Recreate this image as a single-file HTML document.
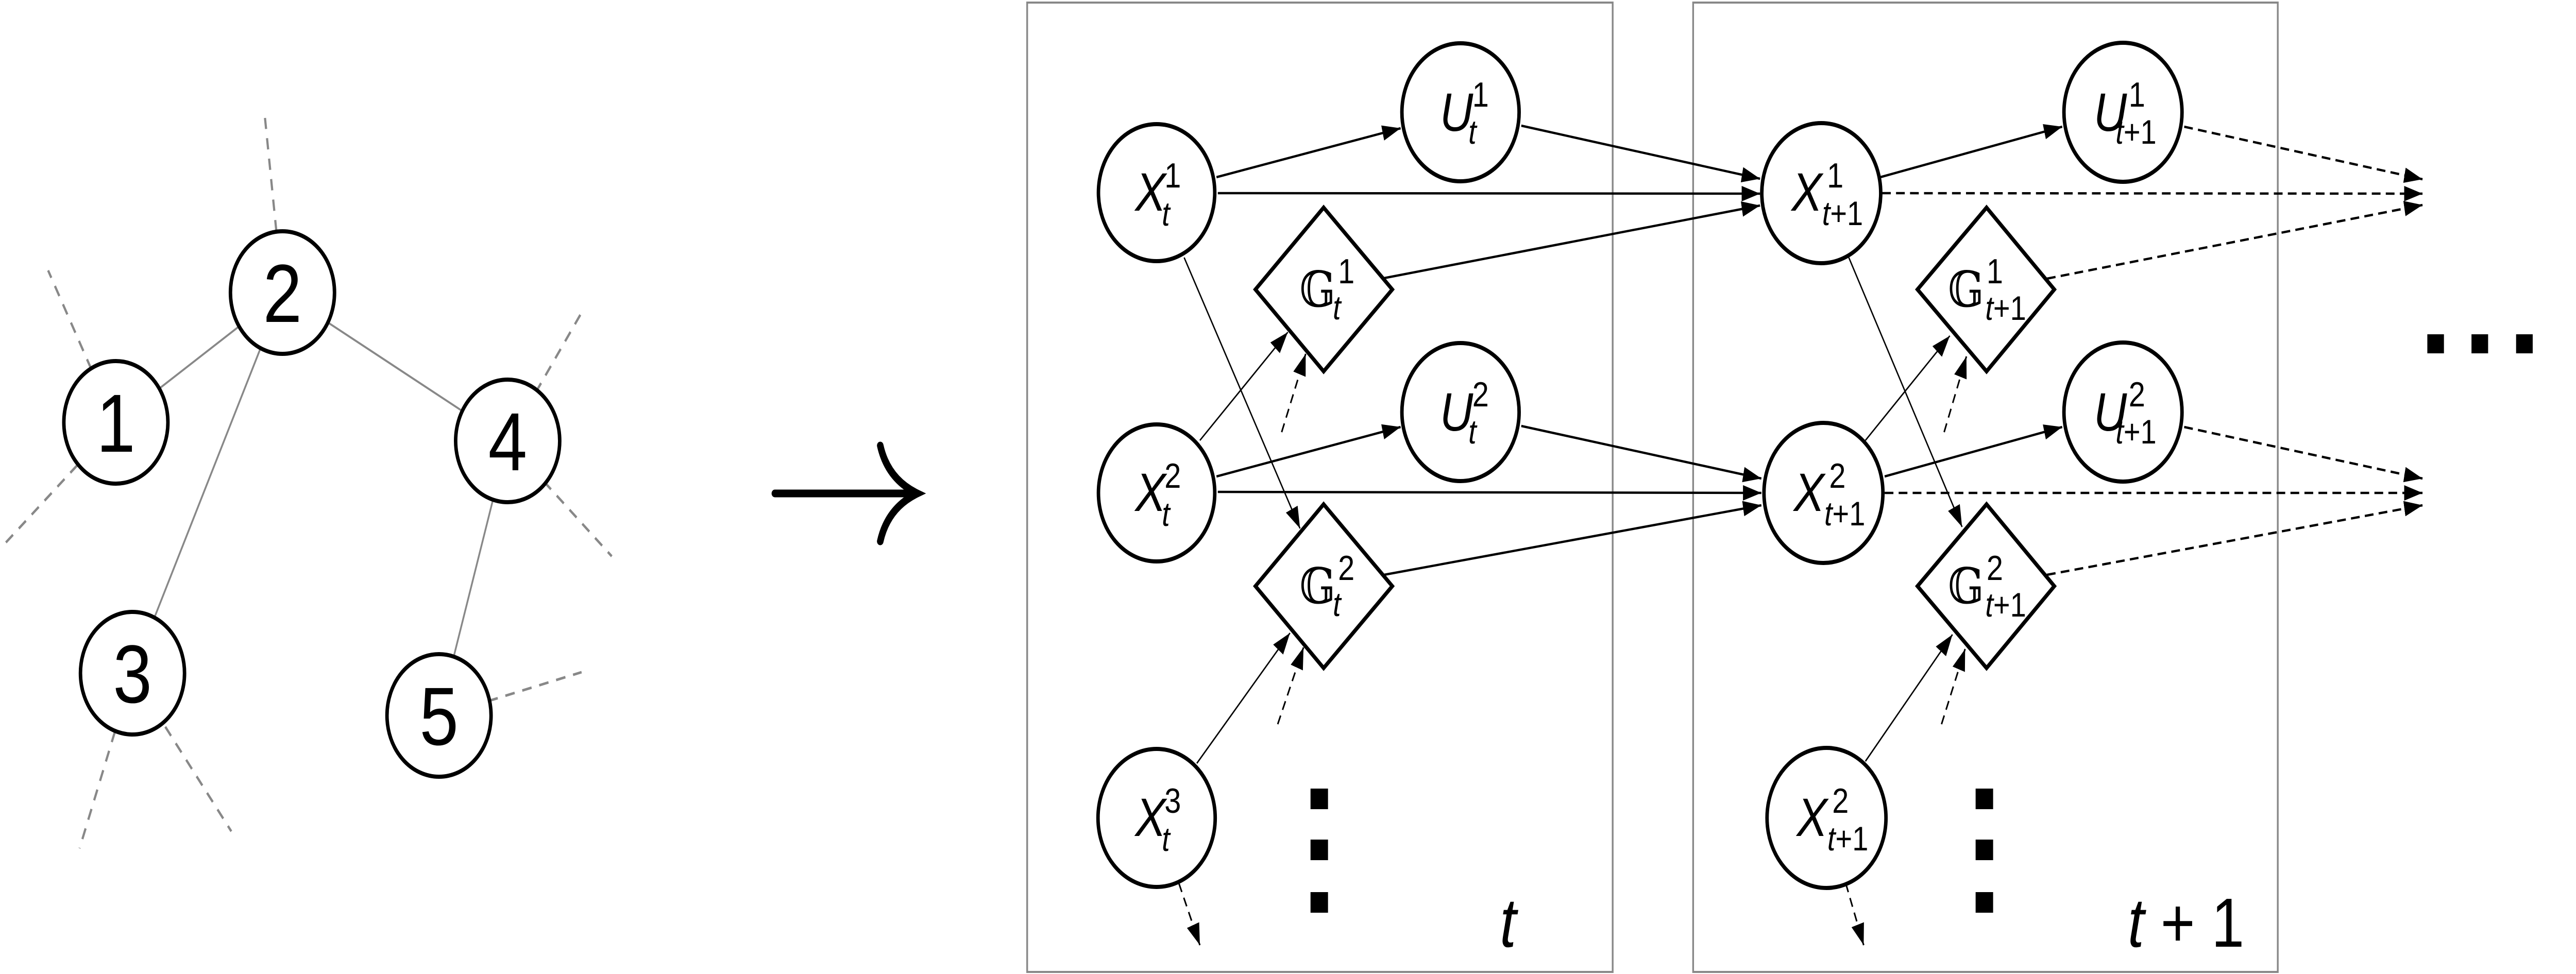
<!DOCTYPE html>
<html><head><meta charset="utf-8"><style>html,body{margin:0;padding:0;background:#fff;width:100%;height:100%;overflow:hidden}svg{display:block;position:absolute;left:0;top:0;width:100%;height:100%}</style></head>
<body>
<svg xmlns="http://www.w3.org/2000/svg" viewBox="0 0 5891 1891" preserveAspectRatio="none">
<defs>
<marker id="ah" markerUnits="userSpaceOnUse" markerWidth="44" markerHeight="32" refX="42" refY="15" orient="auto"><path d="M0,0 L42,15 L0,30 z" fill="#000"/></marker>
</defs>
<rect width="5891" height="1891" fill="#fff"/>
<g stroke="#888" stroke-width="4" fill="none">
<line x1="646" y1="568" x2="265" y2="820"/>
<line x1="646" y1="568" x2="303" y2="1307"/>
<line x1="646" y1="568" x2="1161" y2="856"/>
<line x1="1161" y1="856" x2="1004" y2="1389"/>
<g stroke-dasharray="22 18" stroke-width="5">
<line x1="632" y1="449" x2="606" y2="229"/>
<line x1="209" y1="717" x2="110" y2="525"/>
<line x1="177" y1="903" x2="5" y2="1061"/>
<line x1="1225" y1="762" x2="1330" y2="607"/>
<line x1="1244" y1="935" x2="1399" y2="1080"/>
<line x1="263" y1="1420" x2="182" y2="1647"/>
<line x1="378" y1="1411" x2="529" y2="1614"/>
<line x1="1117" y1="1361" x2="1330" y2="1305"/>
</g>
</g>
<g stroke="#000" stroke-width="8" fill="#fff">
<circle cx="646" cy="568" r="119"/>
<circle cx="265" cy="820" r="119"/>
<circle cx="303" cy="1307" r="119"/>
<circle cx="1161" cy="856" r="119"/>
<circle cx="1004" cy="1389" r="119"/>
</g>
<g font-family="Liberation Sans, sans-serif" font-size="160" text-anchor="middle" fill="#000">
<text x="646" y="625">2</text>
<text x="265" y="877">1</text>
<text x="303" y="1364">3</text>
<text x="1161" y="913">4</text>
<text x="1004" y="1446">5</text>
</g>
<g stroke="#000" stroke-width="15" fill="none" stroke-linecap="round">
<line x1="1772" y1="958" x2="2090" y2="958"/>
<path d="M2013,865 Q2030,930 2098,958 Q2030,986 2013,1051"/>
</g>
<rect x="2349" y="5" width="1339" height="1882" fill="none" stroke="#888" stroke-width="4"/>
<rect x="3872" y="5" width="1337" height="1882" fill="none" stroke="#888" stroke-width="4"/>
<g stroke="#000" stroke-width="4.5" fill="none" marker-end="url(#ah)">
<line x1="2782" y1="344" x2="3203" y2="249"/>
<line x1="2785" y1="375" x2="4025" y2="376"/>
<line x1="3479" y1="244" x2="4025" y2="347"/>
<line x1="3165" y1="540" x2="4025" y2="399"/>
<line x1="2782" y1="925" x2="3203" y2="829"/>
<line x1="2785" y1="955" x2="4028" y2="957"/>
<line x1="3479" y1="827" x2="4028" y2="929"/>
<line x1="3165" y1="1116" x2="4028" y2="981"/>
<line x1="4300" y1="344" x2="4716" y2="246"/>
<line x1="4310" y1="925" x2="4716" y2="829"/>
</g>
<g stroke="#000" stroke-width="3" fill="none" marker-end="url(#ah)">
<line x1="2708" y1="500" x2="2973" y2="1026"/>
<line x1="2744" y1="855" x2="2945" y2="645"/>
<line x1="2737" y1="1482" x2="2950" y2="1229"/>
<line x1="4228" y1="500" x2="4487" y2="1023"/>
<line x1="4266" y1="855" x2="4459" y2="652"/>
<line x1="4266" y1="1478" x2="4465" y2="1232"/>
</g>
<g stroke="#000" stroke-width="3.5" fill="none" stroke-dasharray="18 12" marker-end="url(#ah)">
<line x1="2931" y1="839" x2="2986" y2="687"/>
<line x1="2922" y1="1406" x2="2981" y2="1257"/>
<line x1="2696" y1="1715" x2="2744" y2="1835"/>
<line x1="4446" y1="839" x2="4497" y2="692"/>
<line x1="4440" y1="1406" x2="4494" y2="1260"/>
<line x1="4221" y1="1715" x2="4262" y2="1835"/>
</g>
<g stroke="#000" stroke-width="4.5" fill="none" stroke-dasharray="20 12" marker-end="url(#ah)">
<line x1="4995" y1="246" x2="5540" y2="348"/>
<line x1="4304" y1="375" x2="5540" y2="376"/>
<line x1="4681" y1="541" x2="5540" y2="398"/>
<line x1="4995" y1="829" x2="5540" y2="929"/>
<line x1="4310" y1="957" x2="5540" y2="957"/>
<line x1="4681" y1="1116" x2="5540" y2="981"/>
</g>
<g stroke="#000" stroke-width="8" fill="#fff">
<circle cx="2645" cy="374" r="133"/>
<circle cx="3340" cy="218" r="134"/>
<circle cx="3340" cy="800" r="134"/>
<circle cx="2645" cy="957" r="133"/>
<circle cx="2645" cy="1588" r="134"/>
<polygon points="3027,403 3184,562 3027,721 2871,562"/>
<polygon points="3027,979 3184,1138 3027,1297 2871,1138"/>
<circle cx="4165" cy="375" r="136"/>
<circle cx="4855" cy="218" r="135"/>
<circle cx="4855" cy="800" r="135"/>
<circle cx="4170" cy="957" r="136"/>
<circle cx="4177" cy="1588" r="136"/>
<polygon points="4543,403 4698,562 4543,721 4385,562"/>
<polygon points="4543,979 4698,1138 4543,1297 4385,1138"/>
</g>
<g font-family="Liberation Sans, sans-serif" fill="#000">
<g font-size="105" font-style="italic">
<text x="2596" y="409">X</text><text x="3293" y="254">U</text><text x="3293" y="836">U</text>
<text x="2596" y="992">X</text><text x="2596" y="1623">X</text>
<text x="4097" y="409">X</text><text x="4788" y="254">U</text><text x="4788" y="836">U</text>
<text x="4102" y="992">X</text><text x="4109" y="1623">X</text>
</g>
<g font-size="68">
<text x="2663" y="364">1</text><text x="3367" y="207">1</text><text x="3367" y="789">2</text>
<text x="2663" y="947">2</text><text x="2663" y="1578">3</text>
<text x="4178" y="364">1</text><text x="4868" y="207">1</text><text x="4868" y="789">2</text>
<text x="4183" y="947">2</text><text x="4190" y="1578">2</text>
<text x="3060" y="550">1</text><text x="3060" y="1126">2</text>
<text x="4543" y="550">1</text><text x="4543" y="1126">2</text>
</g>
<g font-size="66">
<text x="2657" y="438" font-style="italic">t</text><text x="3358" y="279" font-style="italic">t</text><text x="3358" y="861" font-style="italic">t</text>
<text x="2657" y="1021" font-style="italic">t</text><text x="2657" y="1652" font-style="italic">t</text>
<text x="3048" y="620" font-style="italic">t</text><text x="3048" y="1196" font-style="italic">t</text>
<text x="4167" y="437"><tspan font-style="italic">t</tspan>+1</text>
<text x="4838" y="279"><tspan font-style="italic">t</tspan>+1</text>
<text x="4838" y="861"><tspan font-style="italic">t</tspan>+1</text>
<text x="4172" y="1020"><tspan font-style="italic">t</tspan>+1</text>
<text x="4179" y="1651"><tspan font-style="italic">t</tspan>+1</text>
<text x="4540" y="621"><tspan font-style="italic">t</tspan>+1</text>
<text x="4540" y="1197"><tspan font-style="italic">t</tspan>+1</text>
</g>
<g font-size="135">
<text x="3430" y="1838" font-style="italic">t</text>
<text x="4866" y="1838"><tspan font-style="italic">t</tspan> + 1</text>
</g>
</g>
<g font-family="DejaVu Serif, DejaVu Sans, serif" font-size="96" fill="#000">
<text x="2972" y="595">𝔾</text><text x="2972" y="1171">𝔾</text>
<text x="4455" y="595">𝔾</text><text x="4455" y="1171">𝔾</text>
</g>
<g fill="#000">
<rect x="2997" y="1531" width="40" height="40"/><rect x="2997" y="1630" width="40" height="40"/><rect x="2997" y="1732" width="40" height="40"/>
<rect x="4518" y="1531" width="40" height="40"/><rect x="4518" y="1630" width="40" height="40"/><rect x="4518" y="1732" width="40" height="40"/>
<rect x="5551" y="649" width="38" height="37"/><rect x="5652" y="649" width="38" height="37"/><rect x="5754" y="649" width="38" height="37"/>
</g>
</svg>
</body></html>
